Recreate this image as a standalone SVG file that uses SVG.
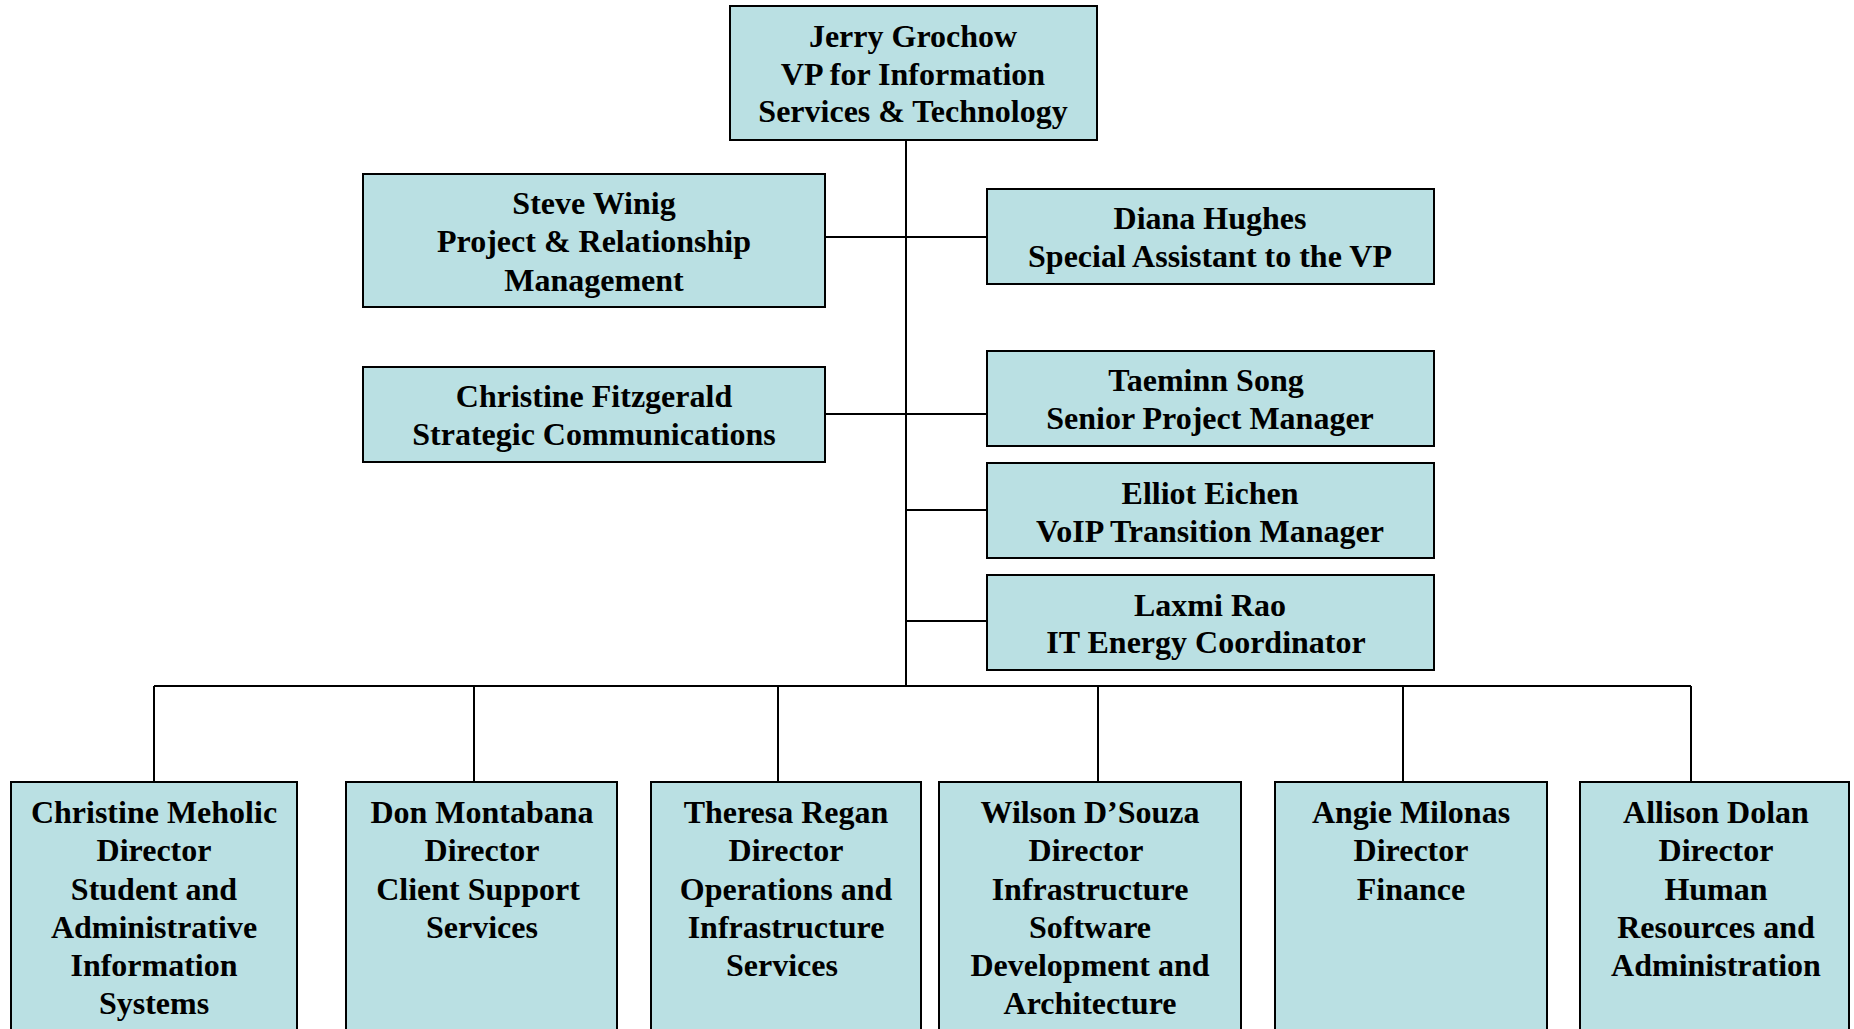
<svg xmlns="http://www.w3.org/2000/svg" width="1854" height="1029" viewBox="0 0 1854 1029">
<style>
.box{fill:#BAE0E3;stroke:#000;stroke-width:2}
.t{font-family:"Liberation Serif","Times New Roman",serif;font-weight:bold;font-size:32px;fill:#000;text-anchor:middle}
.c{stroke:#000;stroke-width:2;fill:none}
</style>
<rect width="1854" height="1029" fill="#fff"/>
<g id="connectors">
<path class="c" d="M906 141V686"/>
<path class="c" d="M826 237H986"/>
<path class="c" d="M826 414H986"/>
<path class="c" d="M906 510H986"/>
<path class="c" d="M906 621H986"/>
<path class="c" d="M154 686H1691"/>
<path class="c" d="M154 686V781M474 686V781M778 686V781M1098 686V781M1403 686V781M1691 686V781"/>
</g>
<g id="grochow">
<rect class="box" x="730" y="6" width="367" height="134"/>
<text class="t" x="913" y="47">Jerry Grochow</text>
<text class="t" x="913" y="85">VP for Information</text>
<text class="t" x="913" y="122">Services &amp; Technology</text>
</g>
<g id="winig">
<rect class="box" x="363" y="174" width="462" height="133"/>
<text class="t" x="594" y="214">Steve Winig</text>
<text class="t" x="594" y="252">Project &amp; Relationship</text>
<text class="t" x="594" y="291">Management</text>
</g>
<g id="hughes">
<rect class="box" x="987" y="189" width="447" height="95"/>
<text class="t" x="1210" y="229">Diana Hughes</text>
<text class="t" x="1210" y="267">Special Assistant to the VP</text>
</g>
<g id="fitzgerald">
<rect class="box" x="363" y="367" width="462" height="95"/>
<text class="t" x="594" y="407">Christine Fitzgerald</text>
<text class="t" x="594" y="445">Strategic Communications</text>
</g>
<g id="song">
<rect class="box" x="987" y="351" width="447" height="95"/>
<text class="t" x="1206" y="391">Taeminn Song</text>
<text class="t" x="1210" y="429">Senior Project Manager</text>
</g>
<g id="eichen">
<rect class="box" x="987" y="463" width="447" height="95"/>
<text class="t" x="1210" y="504">Elliot Eichen</text>
<text class="t" x="1210" y="542">VoIP Transition Manager</text>
</g>
<g id="rao">
<rect class="box" x="987" y="575" width="447" height="95"/>
<text class="t" x="1210" y="616">Laxmi Rao</text>
<text class="t" x="1206" y="653">IT Energy Coordinator</text>
</g>
<g id="meholic">
<rect class="box" x="11" y="782" width="286" height="260"/>
<text class="t" x="154" y="823">Christine Meholic</text>
<text class="t" x="154" y="861">Director</text>
<text class="t" x="154" y="900">Student and</text>
<text class="t" x="154" y="938">Administrative</text>
<text class="t" x="154" y="976">Information</text>
<text class="t" x="154" y="1014">Systems</text>
</g>
<g id="montabana">
<rect class="box" x="346" y="782" width="271" height="260"/>
<text class="t" x="482" y="823">Don Montabana</text>
<text class="t" x="482" y="861">Director</text>
<text class="t" x="478" y="900">Client Support</text>
<text class="t" x="482" y="938">Services</text>
</g>
<g id="regan">
<rect class="box" x="651" y="782" width="270" height="260"/>
<text class="t" x="786" y="823">Theresa Regan</text>
<text class="t" x="786" y="861">Director</text>
<text class="t" x="786" y="900">Operations and</text>
<text class="t" x="786" y="938">Infrastructure</text>
<text class="t" x="782" y="976">Services</text>
</g>
<g id="dsouza">
<rect class="box" x="939" y="782" width="302" height="260"/>
<text class="t" x="1090" y="823">Wilson D’Souza</text>
<text class="t" x="1086" y="861">Director</text>
<text class="t" x="1090" y="900">Infrastructure</text>
<text class="t" x="1090" y="938">Software</text>
<text class="t" x="1090" y="976">Development and</text>
<text class="t" x="1090" y="1014">Architecture</text>
</g>
<g id="milonas">
<rect class="box" x="1275" y="782" width="272" height="260"/>
<text class="t" x="1411" y="823">Angie Milonas</text>
<text class="t" x="1411" y="861">Director</text>
<text class="t" x="1411" y="900">Finance</text>
</g>
<g id="dolan">
<rect class="box" x="1580" y="782" width="269" height="260"/>
<text class="t" x="1716" y="823">Allison Dolan</text>
<text class="t" x="1716" y="861">Director</text>
<text class="t" x="1716" y="900">Human</text>
<text class="t" x="1716" y="938">Resources and</text>
<text class="t" x="1716" y="976">Administration</text>
</g>
</svg>
